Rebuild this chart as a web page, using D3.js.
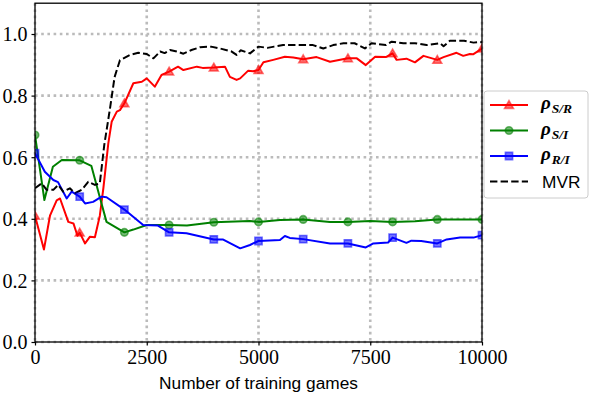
<!DOCTYPE html>
<html><head><meta charset="utf-8">
<script src="https://cdn.jsdelivr.net/npm/d3@7"></script>
<style>body{margin:0;background:#fff}svg{display:block}</style>
</head><body>
<svg id="c" width="590" height="394"></svg>
<script>
const xTicks = [0, 2500, 5000, 7500, 10000];
const yTicks = [0.0, 0.2, 0.4, 0.6, 0.8, 1.0];
const markerEvery = 1000;

const rhoSR = [[0,0.41],[200,0.30],[335,0.41],[485,0.46],[560,0.466],[745,0.39],[860,0.385],[950,0.345],[1000,0.355],[1120,0.32],[1230,0.342],[1340,0.34],[1450,0.41],[1530,0.50],[1640,0.645],[1715,0.715],[1830,0.748],[1900,0.753],[2000,0.775],[2200,0.84],[2390,0.845],[2500,0.856],[2680,0.829],[2830,0.867],[3000,0.878],[3200,0.894],[3320,0.883],[3620,0.894],[3750,0.89],[4000,0.891],[4250,0.894],[4360,0.861],[4510,0.851],[4590,0.856],[4770,0.881],[4880,0.879],[5000,0.883],[5110,0.908],[5330,0.916],[5590,0.926],[5780,0.924],[6000,0.918],[6300,0.925],[6600,0.91],[7000,0.921],[7200,0.921],[7400,0.899],[7610,0.926],[7850,0.925],[8000,0.937],[8090,0.916],[8310,0.92],[8500,0.908],[8690,0.929],[9000,0.916],[9140,0.925],[9430,0.939],[9580,0.929],[9730,0.935],[9800,0.934],[10000,0.953]];

const rhoSI = [[0,0.672],[210,0.461],[400,0.569],[600,0.591],[1000,0.59],[1260,0.572],[1450,0.47],[1600,0.39],[2000,0.356],[2200,0.365],[2500,0.38],[3000,0.38],[3400,0.378],[4000,0.389],[4800,0.393],[5000,0.39],[5480,0.396],[6000,0.398],[6600,0.39],[7000,0.39],[7500,0.393],[8000,0.39],[8500,0.392],[9000,0.398],[10000,0.398]];

const rhoRI = [[0,0.613],[220,0.553],[410,0.526],[515,0.519],[710,0.466],[820,0.488],[1000,0.472],[1120,0.45],[1300,0.455],[1490,0.472],[1600,0.47],[2000,0.43],[2420,0.38],[2750,0.378],[3000,0.356],[3390,0.353],[4000,0.333],[4200,0.333],[4590,0.304],[4810,0.315],[4880,0.32],[5000,0.328],[5480,0.331],[5590,0.344],[5700,0.338],[6000,0.334],[6600,0.32],[7000,0.32],[7400,0.307],[7570,0.32],[7900,0.323],[8000,0.339],[8310,0.322],[8420,0.329],[8640,0.328],[9000,0.32],[9210,0.333],[9510,0.339],[9810,0.339],[10000,0.347]];

const mvr = [[0,0.499],[150,0.515],[260,0.494],[410,0.494],[520,0.51],[630,0.488],[780,0.499],[895,0.483],[1045,0.494],[1190,0.52],[1340,0.51],[1450,0.515],[1550,0.64],[1680,0.76],[1780,0.86],[1900,0.915],[2125,0.932],[2310,0.939],[2500,0.935],[2650,0.921],[2800,0.943],[2900,0.938],[3020,0.948],[3170,0.943],[3320,0.936],[3500,0.948],[3690,0.957],[3940,0.959],[4140,0.953],[4400,0.943],[4510,0.932],[4600,0.947],[4810,0.937],[5000,0.959],[5200,0.955],[5350,0.959],[5550,0.964],[6220,0.964],[6450,0.953],[6670,0.964],[6900,0.97],[7150,0.97],[7380,0.953],[7530,0.97],[7850,0.964],[7980,0.975],[8240,0.97],[8500,0.97],[8760,0.964],[9060,0.97],[9140,0.96],[9280,0.978],[9600,0.978],[9810,0.972],[10000,0.974]];

const seriesNames = ["S/R", "S/I", "R/I", "MVR"];
const seriesColors = ["#ff0000", "#008000", "#0000ff", "#000000"];
const seriesMarkers = ["triangle", "circle", "square", null];
const seriesData = [rhoSR, rhoSI, rhoRI, mvr];

const svg = d3.select("#c");
const L = 35, R = 482, T = 3.2, B = 342;
const x = d3.scaleLinear().domain([0, 10000]).range([L, R]);
const y = d3.scaleLinear().domain([0, 1.1]).range([B, T]);

svg.append("defs").append("clipPath").attr("id","clip")
  .append("rect").attr("x",L).attr("y",T).attr("width",R-L).attr("height",B-T);

// grid
const grid = svg.append("g");
grid.selectAll(".gx").data(xTicks).enter().append("line")
  .attr("x1",d=>x(d)).attr("x2",d=>x(d)).attr("y1",T).attr("y2",B)
  .attr("stroke","#bbbbbb").attr("stroke-width",2.6).attr("stroke-dasharray","2.6,3.6");
grid.selectAll(".gy").data(yTicks).enter().append("line")
  .attr("y1",d=>y(d)).attr("y2",d=>y(d)).attr("x1",L).attr("x2",R)
  .attr("stroke","#bbbbbb").attr("stroke-width",2.6).attr("stroke-dasharray","2.6,3.6");

const symMap = {triangle: d3.symbolTriangle, circle: d3.symbolCircle, square: d3.symbolSquare};
const symSize = {triangle: 34, circle: 44, square: 52};
function drawMarker(g, kind, color, cx, cy) {
  g.append("path").attr("d", d3.symbol().type(symMap[kind]).size(symSize[kind])())
    .attr("transform", `translate(${cx},${cy + (kind==="triangle"?0.8:0)})`)
    .attr("fill", color).attr("fill-opacity", 0.55)
    .attr("stroke", color).attr("stroke-opacity", 0.55).attr("stroke-width", 1.6);
}

const plot = svg.append("g").attr("clip-path","url(#clip)");
const line = d3.line().x(d=>x(d[0])).y(d=>y(d[1]));
seriesData.forEach((data, i) => {
  plot.append("path").datum(data).attr("d", line).attr("fill","none")
    .attr("stroke", seriesColors[i]).attr("stroke-width", 2)
    .attr("stroke-linejoin","round")
    .attr("stroke-dasharray", i===3 ? "7.4,3.2" : null);
});
seriesData.forEach((data, i) => {
  if (!seriesMarkers[i]) return;
  data.filter(d => d[0] % markerEvery === 0).forEach(d =>
    drawMarker(plot, seriesMarkers[i], seriesColors[i], x(d[0]), y(d[1])));
});

// axes
const xAxis = d3.axisBottom(x).tickValues(xTicks).tickSize(3.5).tickPadding(4).tickFormat(d3.format("d"));
const yAxis = d3.axisLeft(y).tickValues(yTicks).tickSize(3.5).tickPadding(4).tickFormat(d3.format(".1f"));
const gx = svg.append("g").attr("transform",`translate(0,${B})`).call(xAxis);
const gy = svg.append("g").attr("transform",`translate(${L},0)`).call(yAxis);
[gx, gy].forEach(g => {
  g.select(".domain").remove();
  g.selectAll(".tick line").attr("stroke","#000").attr("stroke-width",1.2);
  g.selectAll(".tick text").attr("font-family","'Liberation Serif', serif").attr("font-size",20).attr("fill","#000");
});
gy.selectAll(".tick text").attr("dy","0.34em");
gx.selectAll(".tick text").attr("dy","0.72em");

svg.append("rect").attr("x",L).attr("y",T).attr("width",R-L).attr("height",B-T)
  .attr("fill","none").attr("stroke","#000").attr("stroke-width",1.3);

svg.append("text").attr("x",(L+R)/2).attr("y",388.5).attr("text-anchor","middle")
  .attr("font-family","'Liberation Sans', Arial, sans-serif").attr("font-size",17.3)
  .text("Number of training games");

// legend
const lg = svg.append("g");
lg.append("rect").attr("x",484).attr("y",91).attr("width",104).attr("height",107).attr("rx",3)
  .attr("fill","#fff").attr("fill-opacity",0.8).attr("stroke","#cccccc").attr("stroke-width",1);
const rowY = [105, 130.5, 156, 181.5];
seriesNames.forEach((name, i) => {
  const yy = rowY[i];
  lg.append("line").attr("x1",490).attr("x2",528).attr("y1",yy).attr("y2",yy)
    .attr("stroke",seriesColors[i]).attr("stroke-width",2)
    .attr("stroke-dasharray", i===3 ? "7.4,3.2" : null);
  if (seriesMarkers[i]) drawMarker(lg, seriesMarkers[i], seriesColors[i], 509, yy);
  if (i === 3) {
    lg.append("text").attr("x",542).attr("y",yy+6).attr("font-family","'Liberation Sans', Arial, sans-serif")
      .attr("font-size",17.3).text(name);
  } else {
    const t = lg.append("text").attr("x",541).attr("y",yy+4).attr("font-family","'Liberation Serif', serif");
    t.append("tspan").attr("font-size",19).attr("font-style","italic").attr("font-weight","bold").text("ρ");
    t.append("tspan").attr("font-size",13.5).attr("font-style","italic").attr("font-weight","bold")
      .attr("dy",4).attr("dx",1).text(name);
  }
});
</script>
</body></html>
